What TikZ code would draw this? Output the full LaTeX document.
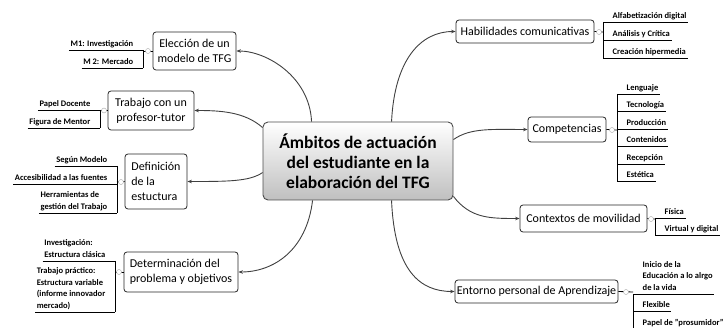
\documentclass[tikz,border=0pt]{standalone}
\usepackage{fontspec}
\setmainfont{Carlito}
\usetikzlibrary{arrows.meta}
\newcommand\rsubitem[4]{%
  \node[sub, anchor=south west] (#1) at (#2+8,#3) {#4};
  \draw[uline] (#2,#3) -- (#1.south east);}
\newcommand\lsubitem[4]{%
  \node[sub, anchor=south east] (#1) at (#2-8,#3) {#4};
  \draw[uline] (#1.south west) -- (#2,#3);}
\begin{document}
\begin{tikzpicture}[x=1pt,y=-1pt,
  box/.style={draw=black!85, line width=0.8pt, rounded corners=3pt, fill=white,
    font=\fontsize{12}{15}\selectfont, inner sep=0pt},
  central/.style={draw=black!70, line width=0.9pt, rounded corners=5pt,
    top color=white, bottom color=black!25,
    font=\bfseries\fontsize{17.5}{20}\selectfont, align=center,
    minimum width=190pt, minimum height=78pt, inner sep=0pt},
  sub/.style={font=\bfseries\fontsize{8.5}{11.5}\selectfont, inner xsep=1.5pt,
    inner ysep=2pt, text depth=1.5pt, align=left},
  uline/.style={line width=0.8pt, draw=black},
  conn/.style={draw=black!75, line width=0.9pt, -{Stealth[length=4.5pt,width=3.5pt]}},
  knob/.style={circle, draw=black!35, fill=white, line width=0.4pt,
    minimum size=5pt, inner sep=0pt}
]
\useasboundingbox (0,0) rectangle (727,328);

% central node
\node[central] (c) at (358,161) {Ámbitos de actuación\\del estudiante en la\\elaboración del TFG};

% left boxes
\node[box, minimum width=83pt, minimum height=38pt, align=center] (elec) at (194.5,51) {Elección de un\\modelo de TFG};
\node[box, minimum width=86pt, minimum height=39pt, align=center] (trab) at (151,110.5) {Trabajo con un\\profesor-tutor};
\node[box, minimum width=62pt, minimum height=55pt, align=left] (defi) at (156,181.5) {Definición\\de la\\estuctura};
\node[box, minimum width=114pt, minimum height=40pt, align=left] (dete) at (181,272) {Determinación del\\problema y objetivos};

% right boxes
\node[box, minimum width=138pt, minimum height=23pt] (habi) at (525,31.5) {Habilidades comunicativas};
\node[box, minimum width=78pt, minimum height=25pt] (comp) at (567,129.5) {Competencias};
\node[box, minimum width=127pt, minimum height=27pt] (cont) at (583.5,218.5) {Contextos de movilidad};
\node[box, minimum width=163pt, minimum height=23pt] (ento) at (536.5,291.5) {Entorno personal de Aprendizaje};

% connectors
\draw[conn] ([xshift=49pt]c.north west) .. controls +(-2,-45) and +(30,0) .. (elec.east);
\draw[conn] ([yshift=-6pt]c.north west) .. controls +(-18,-16) and +(25,0) .. (trab.east);
\draw[conn] ([yshift=-51pt]c.north west) .. controls +(-13,9) and +(40,0) .. (defi.east);
\draw[conn] ([xshift=50pt]c.south west) .. controls +(-6,50) and +(35,0) .. (dete.east);
\draw[conn] ([xshift=129pt]c.north west) .. controls +(3,-62) and +(-35,0) .. (habi.west);
\draw[conn] ([yshift=-18pt]c.north east) .. controls +(17,-12) and +(-35,0) .. (comp.west);
\draw[conn] ([yshift=4pt]c.south east) .. controls +(17,22) and +(-30,0) .. (cont.west);
\draw[conn] ([xshift=129pt]c.south west) .. controls +(3,70) and +(-35,0) .. (ento.west);

% ---- Habilidades items
\draw[uline] (habi.east) -- (603,32);
\draw[uline] (603,22) -- (603,58);
\node[knob] (hk) at (599,32) {};
\rsubitem{h1}{603}{22}{Alfabetización digital}
\rsubitem{h2}{603}{40}{Análisis y Crítica}
\rsubitem{h3}{603}{58}{Creación hipermedia}

% ---- Competencias items
\draw[uline] (comp.east) -- (617,130);
\draw[uline] (617,94) -- (617,181);
\node[knob] (ck) at (612,130) {};
\rsubitem{c1}{617}{94}{Lenguaje}
\rsubitem{c2}{617}{111.5}{Tecnología}
\rsubitem{c3}{617}{129}{Producción}
\rsubitem{c4}{617}{146.5}{Contenidos}
\rsubitem{c5}{617}{164}{Recepción}
\rsubitem{c6}{617}{181}{Estética}

% ---- Contextos items
\draw[uline] (cont.east) -- (655,219);
\draw[uline] (655,218) -- (655,235);
\node[knob] (xk) at (651,219) {};
\rsubitem{x1}{655}{218}{Física}
\rsubitem{x2}{655}{235}{Virtual y digital}

% ---- Entorno items
\draw[uline] (ento.east) -- (633,292);
\draw[uline] (633,294) -- (633,329);
\node[knob] (ek) at (626,292) {};
\rsubitem{e1}{633}{294}{Inicio de la\\Educación a lo alrgo\\de la vida}
\rsubitem{e2}{633}{311}{Flexible}
\rsubitem{e3}{633}{329}{Papel de "prosumidor"}

% ---- Elección items
\draw[uline] (elec.west) -- (143,51);
\draw[uline] (143,50) -- (143,68);
\node[knob] (lk1) at (148,51) {};
\lsubitem{l1}{143}{50}{M1: Investigación}
\lsubitem{l2}{143}{68}{M 2: Mercado}

% ---- Trabajo items
\draw[uline] (trab.west) -- (100,110.5);
\draw[uline] (100,110) -- (100,128);
\node[knob] (lk2) at (104,110.5) {};
\lsubitem{t1}{100}{110}{Papel Docente}
\lsubitem{t2}{100}{128}{Figura de Mentor}

% ---- Definición items
\draw[uline] (defi.west) -- (117,182);
\draw[uline] (117,166) -- (117,213);
\node[knob] (lk3) at (121,182) {};
\lsubitem{d1}{117}{166}{Según Modelo}
\lsubitem{d2}{117}{184}{Accesibilidad a las fuentes}
\lsubitem{d3}{117}{213}{Herramientas de\\gestión del Trabajo}

% ---- Determinación items
\draw[uline] (dete.west) -- (115,272);
\draw[uline] (115,261) -- (115,312);
\node[knob] (lk4) at (119,272) {};
\lsubitem{p1}{115}{261}{Investigación:\\Estructura clásica}
\lsubitem{p2}{115}{312}{Trabajo práctico:\\Estructura variable\\(informe innovador\\mercado)}
\end{tikzpicture}
\end{document}
